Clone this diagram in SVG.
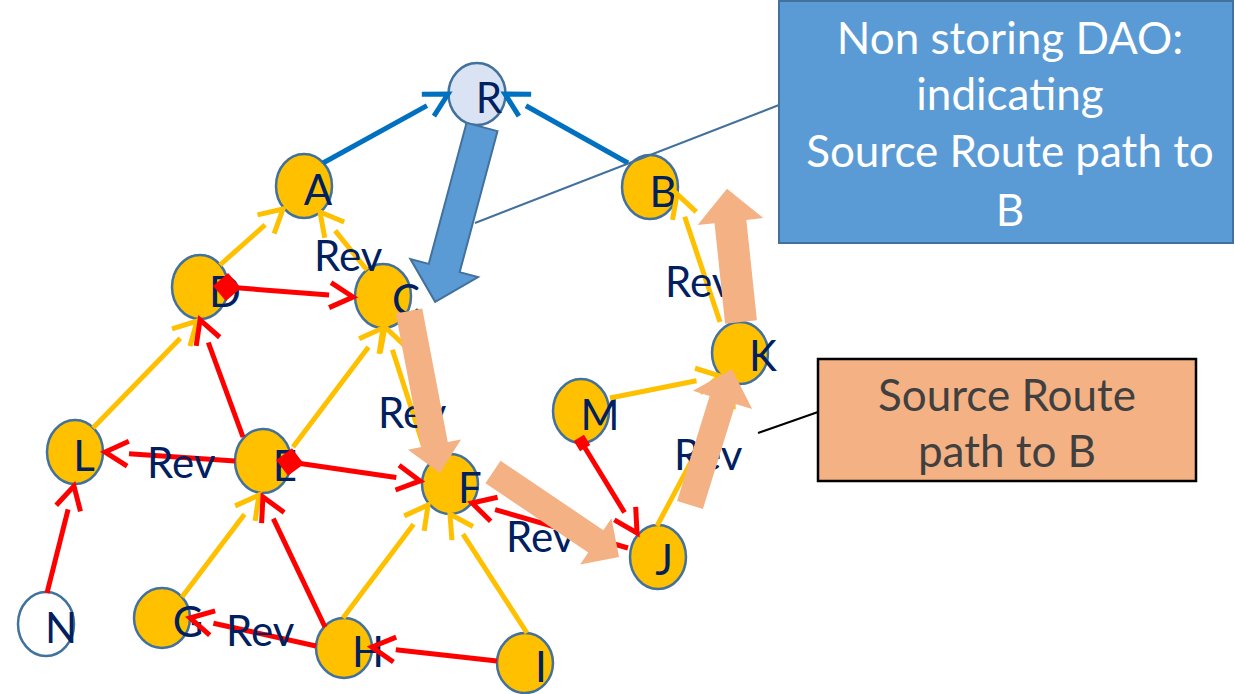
<svg xmlns="http://www.w3.org/2000/svg" width="1235" height="694" viewBox="0 0 1235 694">
<style>
.node{fill:#ffc000;stroke:#41719c;stroke-width:2.5}
.lbl{font-family:Lato,"Liberation Sans",sans-serif;font-size:42px;fill:#002060;text-anchor:middle}
.rev{font-family:Lato,"Liberation Sans",sans-serif;font-size:42px;fill:#002060}
.eb{stroke:#0070c0;stroke-width:5;fill:none;marker-end:url(#ab)}
.ey{stroke:#ffc000;stroke-width:5;fill:none;marker-end:url(#ay)}
.er{stroke:#ff0000;stroke-width:5;fill:none;marker-end:url(#ar)}
.orange{fill:#f4b183}
.ctext{font-family:Lato,"Liberation Sans",sans-serif;font-size:44px;text-anchor:middle}
</style>
<defs>
<marker id="ab" markerUnits="userSpaceOnUse" orient="auto" markerWidth="40" markerHeight="40" viewBox="-5 -20 40 40" refX="0" refY="0" overflow="visible"><path d="M1,-12.5 L24,0 L1,12.5" fill="none" stroke="#0070c0" stroke-width="5"/></marker>
<marker id="ay" markerUnits="userSpaceOnUse" orient="auto" markerWidth="40" markerHeight="40" viewBox="-5 -20 40 40" refX="0" refY="0" overflow="visible"><path d="M1,-12.5 L24,0 L1,12.5" fill="none" stroke="#ffc000" stroke-width="5"/></marker>
<marker id="ar" markerUnits="userSpaceOnUse" orient="auto" markerWidth="40" markerHeight="40" viewBox="-5 -20 40 40" refX="0" refY="0" overflow="visible"><path d="M1,-12.5 L24,0 L1,12.5" fill="none" stroke="#ff0000" stroke-width="5"/></marker>
<marker id="dia" markerUnits="userSpaceOnUse" orient="auto" markerWidth="32" markerHeight="32" viewBox="-16 -16 32 32" refX="0" refY="0" overflow="visible"><path d="M-14,0 L0,-14 L14,0 L0,14 Z" fill="#ff0000"/></marker>
<marker id="sq" markerUnits="userSpaceOnUse" orient="auto" markerWidth="16" markerHeight="16" viewBox="-8 -8 16 16" refX="0" refY="0" overflow="visible"><rect x="-6" y="-6" width="12" height="12" fill="#ff0000"/></marker>
</defs>
<rect width="1235" height="694" fill="#ffffff"/>

<g id="nodes">
<g id="node-R"><ellipse cx="477" cy="94" rx="28.5" ry="31" fill="#dae3f3" stroke="#41719c" stroke-width="2.5"/><text class="lbl" x="489" y="113">R</text></g>
<g id="node-A"><ellipse class="node" cx="304" cy="186" rx="28" ry="32"/><text class="lbl" x="318" y="205">A</text></g>
<g id="node-B"><ellipse class="node" cx="650" cy="187" rx="28" ry="32"/><text class="lbl" x="663" y="207">B</text></g>
<g id="node-C"><ellipse class="node" cx="383" cy="296" rx="28" ry="32"/><text class="lbl" x="406" y="315">C</text></g>
<g id="node-D"><ellipse class="node" cx="200" cy="287" rx="28" ry="32"/><text class="lbl" x="225" y="307">D</text></g>
<g id="node-E"><ellipse class="node" cx="263" cy="461" rx="28" ry="32"/><text class="lbl" x="285" y="481">E</text></g>
<g id="node-F"><ellipse class="node" cx="450" cy="484" rx="28" ry="30"/><text class="lbl" x="470" y="503">F</text></g>
<g id="node-L"><ellipse class="node" cx="75" cy="452" rx="28" ry="32"/><text class="lbl" x="84" y="471">L</text></g>
<g id="node-N"><ellipse cx="46" cy="624" rx="28" ry="32" fill="#ffffff" stroke="#41719c" stroke-width="2.5"/><text class="lbl" x="61" y="643">N</text></g>
<g id="node-G"><ellipse class="node" cx="162" cy="618" rx="28" ry="30"/><text class="lbl" x="188" y="637">G</text></g>
<g id="node-H"><ellipse class="node" cx="344" cy="648" rx="28" ry="30"/><text class="lbl" x="368" y="667">H</text></g>
<g id="node-I"><ellipse class="node" cx="525" cy="663" rx="28" ry="30"/><text class="lbl" x="541" y="682">I</text></g>
<g id="node-J"><ellipse class="node" cx="658" cy="557" rx="28" ry="32"/><text class="lbl" x="664" y="575">J</text></g>
<g id="node-M"><ellipse class="node" cx="581" cy="411" rx="28" ry="32"/><text class="lbl" x="600" y="430">M</text></g>
<g id="node-K"><ellipse class="node" cx="740" cy="353" rx="28" ry="31"/><text class="lbl" x="763" y="371">K</text></g>
</g>

<g id="connectors">
<line class="eb" x1="323" y1="163" x2="427" y2="105.6"/>
<line class="eb" x1="628" y1="163" x2="525.9" y2="105.7"/>
<line class="ey" x1="220" y1="265" x2="265.1" y2="224.9"/>
<line class="ey" x1="367" y1="270" x2="335.1" y2="230.6"/>
<line class="ey" x1="93" y1="428" x2="180.3" y2="338.2"/>
<line class="ey" x1="293" y1="447" x2="368.5" y2="347.1"/>
<line class="ey" x1="428" y1="460" x2="392.4" y2="349.8"/>
<line class="ey" x1="182" y1="597" x2="244.5" y2="514.2"/>
<line class="ey" x1="343" y1="618" x2="413.6" y2="524.2"/>
<line class="ey" x1="527" y1="633" x2="463" y2="534.2"/>
<line class="ey" x1="657" y1="526" x2="721.7" y2="404.2"/>
<line class="ey" x1="610" y1="398" x2="696.5" y2="380.7"/>
<line class="ey" x1="720" y1="322" x2="684.7" y2="216.8"/>
<line class="er" x1="227" y1="287" x2="329.1" y2="295.1" marker-start="url(#dia)"/>
<line class="er" x1="243" y1="437" x2="208.3" y2="342.5"/>
<line class="er" x1="235" y1="461" x2="129" y2="453.7"/>
<line class="er" x1="290" y1="462" x2="396.3" y2="477.5" marker-start="url(#dia)"/>
<line class="er" x1="47" y1="593" x2="68.1" y2="509.3"/>
<line class="er" x1="325" y1="627" x2="273.3" y2="518.7"/>
<line class="er" x1="316" y1="646" x2="213.4" y2="623.2"/>
<line class="er" x1="497" y1="661" x2="395.8" y2="649.7"/>
<line class="er" x1="628" y1="548" x2="495.1" y2="509.6"/>
<line class="er" x1="582" y1="443" x2="624.5" y2="512.5" marker-start="url(#sq)"/>
<g id="edge-labels">
<text class="rev" x="314" y="271">Rev</text>
<text class="rev" x="378" y="428">Rev</text>
<text class="rev" x="147" y="478">Rev</text>
<text class="rev" x="226" y="646">Rev</text>
<text class="rev" x="506" y="552">Rev</text>
<text class="rev" x="665" y="297">Rev</text>
<text class="rev" x="674" y="470">Rev</text>
</g>
</g>

<g id="dao-arrow">
<line x1="475" y1="223" x2="779" y2="105" stroke="#41719c" stroke-width="2"/>
<polygon transform="translate(482,127) rotate(105)" points="0,-16 146,-16 146,-35 181,0 146,35 146,16 0,16" fill="#5b9bd5" stroke="#41719c" stroke-width="2"/>
</g>

<g id="source-route-arrows">
<polygon class="orange" transform="translate(409,311) rotate(79.2)" points="0,-13.5 136,-13.5 136,-27 165,0 136,27 136,13.5 0,13.5"/>
<polygon class="orange" transform="translate(493,472) rotate(34)" points="0,-13.5 124,-13.5 124,-28 152,0 124,28 124,13.5 0,13.5"/>
<polygon class="orange" transform="translate(690,505) rotate(-72.8)" points="0,-13.5 110,-13.5 110,-31 142,0 110,31 110,13.5 0,13.5"/>
<polygon class="orange" transform="translate(741,322) rotate(-96)" points="0,-16 101,-16 101,-33 134,0 101,33 101,16 0,16"/>
</g>

<g id="callout-dao">
<rect x="779" y="1" width="454" height="242" fill="#5b9bd5" stroke="#41719c" stroke-width="2"/>
<text class="ctext" fill="#ffffff"><tspan x="1010" y="54">Non storing DAO:</tspan><tspan x="1010" y="110">indicating</tspan><tspan x="1010" y="167">Source Route path to</tspan><tspan x="1010" y="226">B</tspan></text>
</g>

<g id="callout-source-route">
<line x1="758" y1="433" x2="818" y2="412" stroke="#000000" stroke-width="2"/>
<rect x="818" y="359" width="378" height="122" fill="#f4b183" stroke="#000000" stroke-width="2.5"/>
<text class="ctext" fill="#404040"><tspan x="1007" y="411">Source Route</tspan><tspan x="1007" y="467">path to B</tspan></text>
</g>
</svg>
